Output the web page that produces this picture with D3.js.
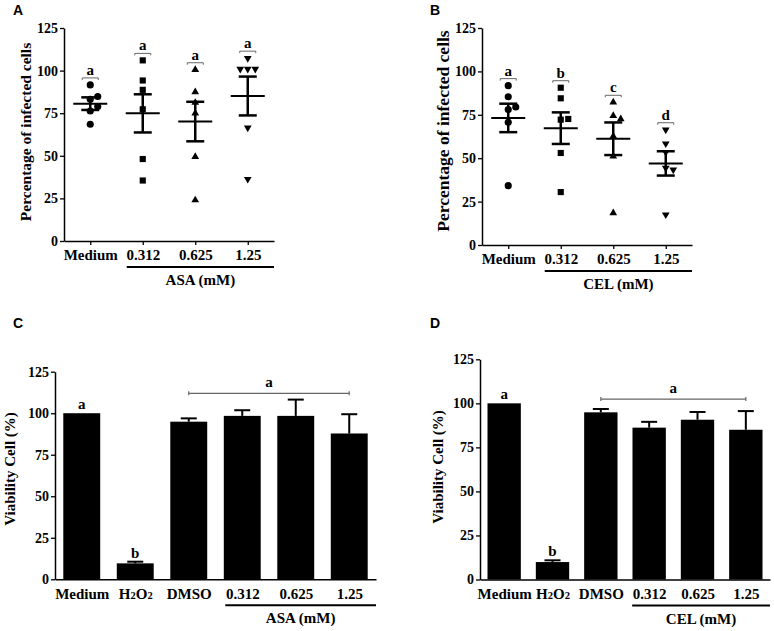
<!DOCTYPE html>
<html>
<head>
<meta charset="utf-8">
<script src="https://cdn.jsdelivr.net/npm/d3@7"></script>
<style>
  body { margin: 0; background: #fff; }
  svg { display: block; }
  .serif { font-family: "Liberation Serif", "Times New Roman", serif; font-weight: bold; }
</style>
</head>
<body>
<div id="chart"></div>
<script>
// values
const scatterGroups = ["Medium", "0.312", "0.625", "1.25"];
const yTicks = [0, 25, 50, 75, 100, 125];

// panel A (ASA), infected cells per well
const aMedium = [91.6, 83.2, 84.8, 78.9, 76.3, 68.5];
const aLow = [106, 94.2, 88.7, 77.3, 48.1, 35.5];
const aMid = [100.5, 87.5, 81.2, 75, 49.5, 24];
const aHigh = [107.3, 100.9, 100.9, 100.9, 66.5, 36.3];
const aMeans = [80.6, 74.9, 70.1, 85.1];
const aSems = [3.7, 11.2, 11.6, 11.4];
const aLetters = ["a", "a", "a", "a"];

// panel B (CEL)
const bMedium = [91.8, 85.4, 78, 79.5, 70.7, 34.2];
const bLow = [90.6, 84.5, 72.2, 72.6, 53, 30.5];
const bMid = [82.2, 74.5, 72.6, 62.6, 51.1, 18.4];
const bHigh = [66.4, 58.4, 53.4, 44.4, 43.4, 17.5];
const bMeans = [73.2, 67.3, 61.2, 47];
const bSems = [8.2, 9.1, 9.4, 7];
const bLetters = ["a", "b", "c", "d"];

// panels C and D, cell viability
const barGroups = ["Medium", "H2O2", "DMSO", "0.312", "0.625", "1.25"];
const cMeans = [100, 9.6, 94.9, 98.4, 98.4, 87.8];
const cErrors = [0, 1, 2, 3.4, 9.8, 11.6];
const dMeans = [100, 9.9, 94.9, 86.2, 90.7, 85];
const dErrors = [0, 1, 1.9, 3.3, 4.4, 10.6];
const barLetters = ["a", "b"];   // over Medium and H2O2
const groupLetter = "a";         // over DMSO .. 1.25
const cBracket = 112;
const dBracket = 102.4;

const width = 774, height = 631;
const svg = d3.select("#chart").append("svg")
    .attr("width", width)
    .attr("height", height);
svg.append("rect").attr("width", width).attr("height", height).attr("fill", "#fff");

function styleAxis(g) {
    g.selectAll(".domain").attr("stroke", "#000").attr("stroke-width", 1.5);
    g.selectAll(".tick line").attr("stroke", "#000").attr("stroke-width", 1.3);
    g.selectAll("text")
        .attr("class", "serif")
        .attr("font-size", 14)
        .attr("fill", "#000");
}

function panelLetter(x, y, t) {
    svg.append("text")
        .attr("x", x).attr("y", y)
        .attr("font-family", "Liberation Sans, Arial, sans-serif")
        .attr("font-weight", "bold")
        .attr("font-size", 14)
        .text(t);
}

function yTitle(x, y, t, size) {
    svg.append("text")
        .attr("class", "serif")
        .attr("transform", `translate(${x},${y}) rotate(-90)`)
        .attr("text-anchor", "middle")
        .attr("font-size", size)
        .text(t);
}

function drugLabel(x0, x1, axisY, t) {
    svg.append("line")
        .attr("x1", x0).attr("x2", x1)
        .attr("y1", axisY + 26).attr("y2", axisY + 26)
        .attr("stroke", "#000").attr("stroke-width", 2);
    svg.append("text")
        .attr("class", "serif")
        .attr("x", (x0 + x1) / 2).attr("y", axisY + 44)
        .attr("text-anchor", "middle")
        .attr("font-size", 15)
        .text(t);
}

// spreads points of one column sideways so the markers do not overlap
function dodge(values, y, gap) {
    const placed = [];
    const steps = [0, 1, -1, 2, -2, 3, -3];
    return values.map(v => {
        const py = y(v);
        let dx = 0;
        for (const s of steps) {
            const cx = s * gap;
            if (placed.every(p => Math.hypot(p[0] - cx, p[1] - py) >= gap)) { dx = cx; break; }
        }
        placed.push([dx, py]);
        return dx;
    });
}

const symbols = [
    d3.symbol(d3.symbolCircle, 40)(),
    d3.symbol(d3.symbolSquare, 38)(),
    d3.symbol(d3.symbolTriangle, 26)(),
    d3.symbol(d3.symbolTriangle, 26)()
];

function drawScatter(o) {
    const x = d3.scalePoint().domain(scatterGroups).range([o.left, o.right]).padding(0.5);
    const y = d3.scaleLinear().domain([0, 125]).range([o.bottom, o.top]);

    const g = svg.append("g");

    g.append("g")
        .attr("transform", `translate(${o.left},0)`)
        .call(d3.axisLeft(y).tickValues(yTicks).tickSize(4).tickSizeOuter(0).tickPadding(2))
        .call(styleAxis);

    g.append("g")
        .attr("transform", `translate(0,${o.bottom})`)
        .call(d3.axisBottom(x).tickSize(4).tickSizeOuter(0).tickPadding(4))
        .call(styleAxis)
        .selectAll(".tick text").attr("font-size", 15);

    o.series.forEach((vals, i) => {
        const cx = x(scatterGroups[i]);
        const offs = dodge(vals, y, 7.5);
        g.selectAll(null)
            .data(vals)
            .join("path")
            .attr("d", symbols[i])
            .attr("transform", (d, j) => `translate(${cx + offs[j]},${y(d)})` + (i === 3 ? " rotate(180)" : ""))
            .attr("fill", "#000");

        // mean and SEM
        const m = o.means[i], s = o.sems[i];
        g.append("line")
            .attr("x1", cx - 17).attr("x2", cx + 17)
            .attr("y1", y(m)).attr("y2", y(m))
            .attr("stroke", "#000").attr("stroke-width", 2);
        g.append("line")
            .attr("x1", cx).attr("x2", cx)
            .attr("y1", y(m - s)).attr("y2", y(m + s))
            .attr("stroke", "#000").attr("stroke-width", 2.5);
        [m - s, m + s].forEach(v => {
            g.append("line")
                .attr("x1", cx - 9).attr("x2", cx + 9)
                .attr("y1", y(v)).attr("y2", y(v))
                .attr("stroke", "#000").attr("stroke-width", 2.5);
        });

        // significance letter
        const by = y(d3.max(vals)) - 7;
        g.append("path")
            .attr("d", `M${cx - 8},${by + 2}V${by}H${cx + 8}V${by + 2}`)
            .attr("fill", "none").attr("stroke", "#666").attr("stroke-width", 1);
        g.append("text")
            .attr("class", "serif")
            .attr("x", cx).attr("y", by - 3)
            .attr("text-anchor", "middle")
            .attr("font-size", 15)
            .text(o.letters[i]);
    });

    drugLabel(x("0.312") - 16, o.right, o.bottom, o.unit);
}

function drawBars(o) {
    const x = d3.scalePoint().domain(barGroups).range([o.left, o.right]).padding(0.5);
    const y = d3.scaleLinear().domain([0, 125]).range([o.bottom, o.top]);
    const bw = x.step() * 0.69;

    const g = svg.append("g");

    g.selectAll(null)
        .data(o.means)
        .join("rect")
        .attr("x", (d, i) => x(barGroups[i]) - bw / 2)
        .attr("y", d => y(d))
        .attr("width", bw)
        .attr("height", d => o.bottom - y(d))
        .attr("fill", "#000");

    o.errors.forEach((e, i) => {
        if (!e) return;
        const cx = x(barGroups[i]);
        const top = y(o.means[i] + e);
        g.append("line")
            .attr("x1", cx).attr("x2", cx)
            .attr("y1", y(o.means[i])).attr("y2", top)
            .attr("stroke", "#000").attr("stroke-width", 2);
        g.append("line")
            .attr("x1", cx - 8).attr("x2", cx + 8)
            .attr("y1", top).attr("y2", top)
            .attr("stroke", "#000").attr("stroke-width", 2);
    });

    g.append("g")
        .attr("transform", `translate(${o.left},0)`)
        .call(d3.axisLeft(y).tickValues(yTicks).tickSize(4).tickSizeOuter(0).tickPadding(2))
        .call(styleAxis);

    const xa = g.append("g")
        .attr("transform", `translate(0,${o.bottom})`)
        .call(d3.axisBottom(x).tickSize(0).tickSizeOuter(0).tickPadding(9))
        .call(styleAxis);
    xa.selectAll(".tick text").attr("font-size", 15);
    xa.selectAll(".tick text")
        .filter(d => d === "H2O2")
        .text(null)
        .call(t => {
            t.append("tspan").text("H");
            t.append("tspan").attr("font-size", 10.5).text("2");
            t.append("tspan").text("O");
            t.append("tspan").attr("font-size", 10.5).text("2");
        });

    // letters over Medium and H2O2
    barLetters.forEach((l, i) => {
        g.append("text")
            .attr("class", "serif")
            .attr("x", x(barGroups[i]))
            .attr("y", y(o.means[i] + o.errors[i]) - 4)
            .attr("text-anchor", "middle")
            .attr("font-size", 15)
            .text(l);
    });

    // bracket over the vehicle and drug bars
    const x0 = x("DMSO"), x1 = x("1.25"), by = y(o.bracket);
    g.append("path")
        .attr("d", `M${x0},${by - 2}V${by + 2}M${x0},${by}H${x1}M${x1},${by - 2}V${by + 2}`)
        .attr("fill", "none").attr("stroke", "#666").attr("stroke-width", 1.2);
    g.append("text")
        .attr("class", "serif")
        .attr("x", (x0 + x1) / 2).attr("y", by - 6)
        .attr("text-anchor", "middle")
        .attr("font-size", 15)
        .text(groupLetter);

    drugLabel(x("0.312") - 17, o.right, o.bottom, o.unit);
}

drawScatter({
    left: 64, right: 274, top: 28, bottom: 241,
    series: [aMedium, aLow, aMid, aHigh],
    means: aMeans, sems: aSems, letters: aLetters, unit: "ASA (mM)"
});
drawScatter({
    left: 482, right: 692, top: 28, bottom: 245,
    series: [bMedium, bLow, bMid, bHigh],
    means: bMeans, sems: bSems, letters: bLetters, unit: "CEL (mM)"
});
drawBars({
    left: 55, right: 376, top: 371.7, bottom: 579.3,
    means: cMeans, errors: cErrors, bracket: cBracket, unit: "ASA (mM)"
});
drawBars({
    left: 480, right: 770, top: 359.3, bottom: 579.5,
    means: dMeans, errors: dErrors, bracket: dBracket, unit: "CEL (mM)"
});

yTitle(31, 132, "Percentage of infected cells", 15.5);
yTitle(449, 131, "Percentage of infected cells", 17.5);
yTitle(15, 469, "Viability Cell (%)", 15);
yTitle(443, 467, "Viability Cell (%)", 15);

panelLetter(13, 15, "A");
panelLetter(430, 15, "B");
panelLetter(13, 328, "C");
panelLetter(430, 328, "D");
</script>
</body>
</html>
